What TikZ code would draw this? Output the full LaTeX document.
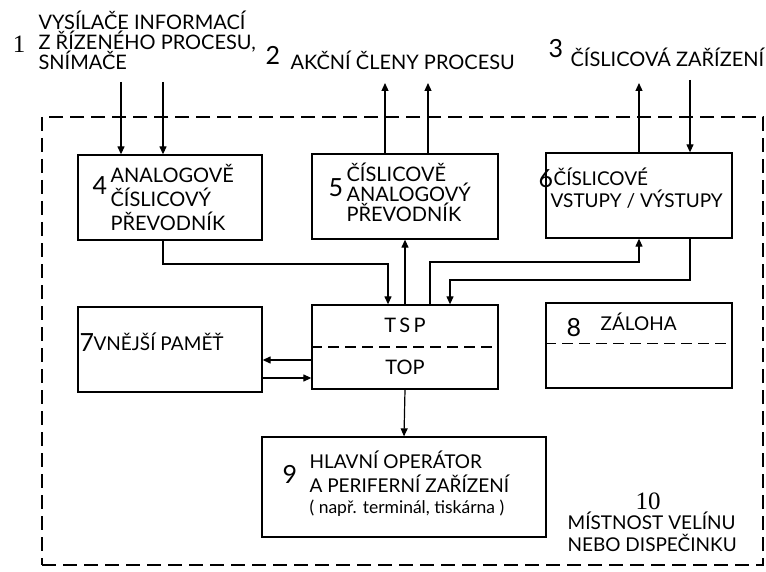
\documentclass[tikz,border=0pt]{standalone}
\usepackage{fontspec}
\setmainfont{Lato}
\newfontfamily\sernum{Liberation Serif}
\usetikzlibrary{arrows.meta}
\begin{document}
\begin{tikzpicture}[x=1pt,y=-1pt,line width=1.2pt,
  box/.style={draw,line width=1.3pt,inner sep=0pt},
  room/.style={draw,line width=1.3pt,dash pattern=on 14pt off 7pt,inner sep=0pt},
  sep/.style={line width=1.2pt,dash pattern=on 11pt off 6pt},
  txt/.style={anchor=base west,inner sep=0pt,font=\fontsize{20}{20}\selectfont},
  stxt/.style={anchor=base west,inner sep=0pt,font=\fontsize{19}{19}\selectfont},
  num/.style={anchor=base west,inner sep=0pt,font=\fontsize{25}{25}\selectfont},
  snum/.style={anchor=base,inner sep=0pt,font=\sernum\fontsize{25}{25}\selectfont},
  arr/.style={-{Triangle[length=8pt,width=7pt]}},
]
\useasboundingbox (0,0) rectangle (766,572);
% outer room
\node[room,minimum width=721pt,minimum height=448pt] (room) at (402.5,341) {};
% boxes
\node[box,minimum width=184pt,minimum height=85pt] (b4) at (170,197.5) {};
\node[box,minimum width=186pt,minimum height=85pt] (b5) at (405,196.5) {};
\node[box,minimum width=186pt,minimum height=85pt] (b6) at (639,195.5) {};
\node[box,minimum width=186pt,minimum height=84pt] (bT) at (405,347) {};
\node[box,minimum width=184pt,minimum height=85pt] (b7) at (170,349.5) {};
\node[box,minimum width=186pt,minimum height=85pt] (b8) at (639,345.5) {};
\node[box,minimum width=284pt,minimum height=100pt] (b9) at (404,487) {};
\draw[sep] (bT.west) -- (bT.east);
\draw[sep] ([yshift=2pt]b8.west) -- ([yshift=2pt]b8.east);
% texts
\node[snum] (n1) at (19,53) {1};
\node[txt] (l1a) at (38,30) {VYSÍLAČE INFORMACÍ};
\node[txt] (l1b) at (38,50) {Z ŘÍZENÉHO PROCESU,};
\node[txt] (l1c) at (38,70) {SNÍMAČE};
\node[num] (n2) at (265,65) {2};
\node[txt] (l2) at (290,70) {AKČNÍ ČLENY PROCESU};
\node[num] (n3) at (548,58) {3};
\node[txt] (l3) at (570,67) {ČÍSLICOVÁ ZAŘÍZENÍ};
\node[num] (n4) at (92,195) {4};
\node[txt] (l4a) at (110,183) {ANALOGOVĚ};
\node[txt] (l4b) at (110,207) {ČÍSLICOVÝ};
\node[txt] (l4c) at (110,231) {PŘEVODNÍK};
\node[num] (n5) at (328,197) {5};
\node[txt] (l5a) at (346,182) {ČÍSLICOVĚ};
\node[txt] (l5b) at (346,202) {ANALOGOVÝ};
\node[txt] (l5c) at (346,222) {PŘEVODNÍK};
\node[num] (n6) at (538,188) {6};
\node[stxt] (l6a) at (553,186) {ČÍSLICOVÉ};
\node[stxt] (l6b) at (550,208) {VSTUPY / VÝSTUPY};
\node[txt,anchor=base] (tsp) at (405,332) {T\,S\,P};
\node[txt,anchor=base] (top) at (405,374) {TOP};
\node[num] (n7) at (79,351) {7};
\node[stxt] (l7) at (93,350) {VNĚJŠÍ PAMĚŤ};
\node[num] (n8) at (566,336) {8};
\node[stxt] (l8) at (600,330) {ZÁLOHA};
\node[num] (n9) at (282,483) {9};
\node[stxt] (l9a) at (309,468) {HLAVNÍ OPERÁTOR};
\node[stxt] (l9b) at (309,492) {A PERIFERNÍ ZAŘÍZENÍ};
\node[anchor=base west,inner sep=0pt,font=\fontsize{17.5}{17.5}\selectfont] (l9c) at (309,513) {( např. terminál, tiskárna )};
\node[snum] (n10) at (648,509) {10};
\node[stxt] (l10a) at (567,529) {MÍSTNOST VELÍNU};
\node[stxt] (l10b) at (567,551) {NEBO DISPEČINKU};
% connector points
\coordinate (c1a) at (121,82);
\coordinate (c1b) at (163,82);
\coordinate (c2a) at (385,83);
\coordinate (c2b) at (428,83);
\coordinate (c3a) at (639,83);
\coordinate (c3b) at (690,80);
\coordinate (j1) at (388,264);
\coordinate (j2) at (430,262);
\coordinate (j4) at (450,280);
\coordinate (m1) at (287,360);
\coordinate (m2) at (287,378);
% connectors
\draw[arr] (c1a) -- (c1a |- b4.north);
\draw[arr] (c1b) -- (c1b |- b4.north);
\draw[arr] (c2a |- b5.north) -- (c2a);
\draw[arr] (c2b |- b5.north) -- (c2b);
\draw[arr] (b6.north) -- (c3a);
\draw[arr] (c3b) -- (c3b |- b6.north);
\draw[arr] (c1b |- b4.south) |- (j1) -- (j1 |- bT.north);
\draw[arr] (bT.north) -- (b5.south);
\draw[arr] (j2 |- bT.north) -- (j2) -| (b6.south);
\draw[arr] (c3b |- b6.south) |- (j4) -- (j4 |- bT.north);
\draw[arr] (m1 -| bT.west) -- (m1 -| b7.east);
\draw[arr] (m2 -| b7.east) -- (m2 -| bT.west);
\draw[arr] (bT.south) -- (b9.north);
\end{tikzpicture}
\end{document}
